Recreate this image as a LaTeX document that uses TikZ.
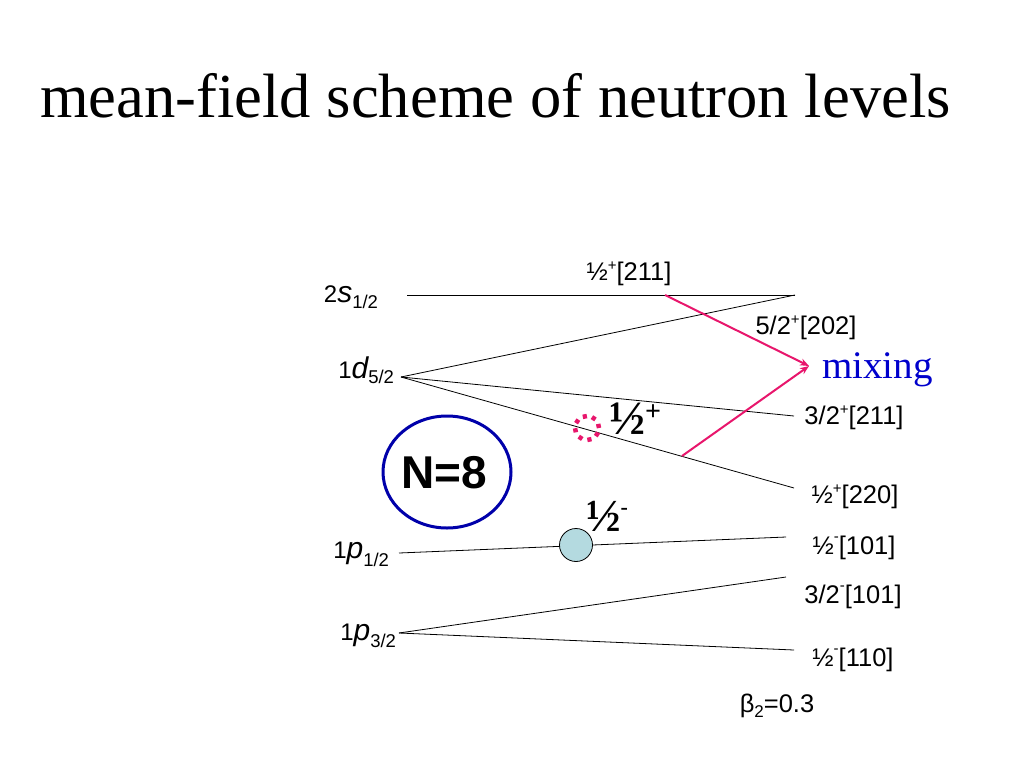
\documentclass[tikz,border=0pt]{standalone}
\usepackage{fontspec}
\setmainfont{Liberation Serif}
\newfontfamily\arialf{Liberation Sans}
\usetikzlibrary{shapes.geometric,arrows.meta}
\definecolor{pinkc}{RGB}{232,22,108}
\definecolor{navyc}{RGB}{0,0,170}
\definecolor{mixblue}{RGB}{0,0,204}
\definecolor{circfill}{RGB}{180,218,224}
\newcommand\lab[1]{{\arialf\fontsize{25.5}{25.5}\selectfont #1}}
\newcommand\psup[1]{\raisebox{10pt}{\fontsize{15}{15}\selectfont #1}}
\newcommand\msup[1]{\raisebox{13pt}{\fontsize{15}{15}\selectfont #1}}
\newcommand\lev[4]{{\arialf\fontsize{24}{24}\selectfont #1}{\arialf\itshape\fontsize{30}{30}\selectfont #2}\raisebox{-#4pt}{\arialf\fontsize{18.5}{18.5}\selectfont #3}}
\begin{document}
\begin{tikzpicture}[x=1pt,y=-1pt,
  lvl/.style={line width=0.8pt,black},
  txt/.style={inner sep=0pt,outer sep=0pt},
  mixarrow/.style={pinkc,line width=2pt,-{Stealth[length=9pt,width=7pt]}}]
\useasboundingbox (0,0) rectangle (1024,768);
\fill[white] (0,0) rectangle (1024,768);

% title
\node[txt,anchor=base west] (title) at (40,117) {\fontsize{62.6}{62.6}\selectfont mean-field scheme of neutron levels};

% level coordinates
\coordinate (sL) at (407,295);
\coordinate (sR) at (795,295);
\coordinate (dV) at (401,377);
\coordinate (dB) at (794,416);
\coordinate (dC) at (794,488);
\coordinate (p1L) at (399,553);
\coordinate (p1R) at (786,537);
\coordinate (p3V) at (399,633);
\coordinate (p3A) at (786,577);
\coordinate (p3B) at (794,650);
\coordinate (mixA) at (665,295);
\coordinate (mixB) at (682,456);
\coordinate (mixT) at (809,366);

% level lines
\draw[lvl] (sL) -- (sR);
\draw[lvl] (dV) -- (sR);
\draw[lvl] (dV) -- (dB);
\draw[lvl] (dV) -- (dC);
\draw[lvl] (p1L) -- (p1R);
\draw[lvl] (p3V) -- (p3A);
\draw[lvl] (p3V) -- (p3B);

% left labels
\node[txt,anchor=base east] (l2s) at (378,302) {\lev{2}{s}{1/2}{6}};
\node[txt,anchor=base east] (l1d) at (394,378) {\lev{1}{d}{5/2}{5}};
\node[txt,anchor=base east] (l1p1) at (389,558) {\lev{1}{p}{1/2}{8}};
\node[txt,anchor=base east] (l1p3) at (396,640) {\lev{1}{p}{3/2}{7}};

% right labels
\node[txt,anchor=base] (r211a) at (629,280) {\lab{½\psup{+}[211]}};
\node[txt,anchor=base] (r202) at (806,334) {\lab{5/2\psup{+}[202]}};
\node[txt,anchor=base] (r211b) at (854,424) {\lab{3/2\psup{+}[211]}};
\node[txt,anchor=base] (r220) at (855,503) {\lab{½\psup{+}[220]}};
\node[txt,anchor=base] (r101a) at (854,554) {\lab{½\msup{-}[101]}};
\node[txt,anchor=base] (r101b) at (853,603) {\lab{3/2\msup{-}[101]}};
\node[txt,anchor=base] (r110) at (853,666) {\lab{½\msup{-}[110]}};
\node[txt,anchor=base] (beta) at (777,712) {\lab{β\raisebox{-5pt}{\fontsize{17}{17}\selectfont 2}=0.3}};

% N=8 ellipse
\node[ellipse,draw=navyc,line width=3pt,minimum width=128pt,minimum height=112pt,inner sep=0pt] (n8) at (447,472) {};
\node[txt] (n8t) at (444,473) {\arialf\bfseries\fontsize{46}{46}\selectfont N=8};

% circles on levels
\node[circle,draw=pinkc,line width=4.5pt,dash pattern=on 4.2pt off 5.225pt,minimum size=24pt,inner sep=0pt] (dot) at (587,428) {};
\node[circle,draw=black,line width=0.8pt,fill=circfill,minimum size=33pt,inner sep=0pt] (occ) at (576,545) {};

% big fractions
\node[txt,anchor=base west] (halfp) at (609,434) {\bfseries\fontsize{48}{48}\selectfont ½\raisebox{14pt}{\fontsize{28}{28}\selectfont +}};
\node[txt,anchor=base west] (halfm) at (586,531) {\bfseries\fontsize{46}{46}\selectfont ½\raisebox{17pt}{\fontsize{22}{22}\selectfont -}};

% mixing arrows
\draw[mixarrow] (mixA) -- (mixT);
\draw[mixarrow] (mixB) -- (mixT);
\node[txt,anchor=base west] (mix) at (822,378) {\color{mixblue}\fontsize{39}{39}\selectfont mixing};
\end{tikzpicture}
\end{document}
